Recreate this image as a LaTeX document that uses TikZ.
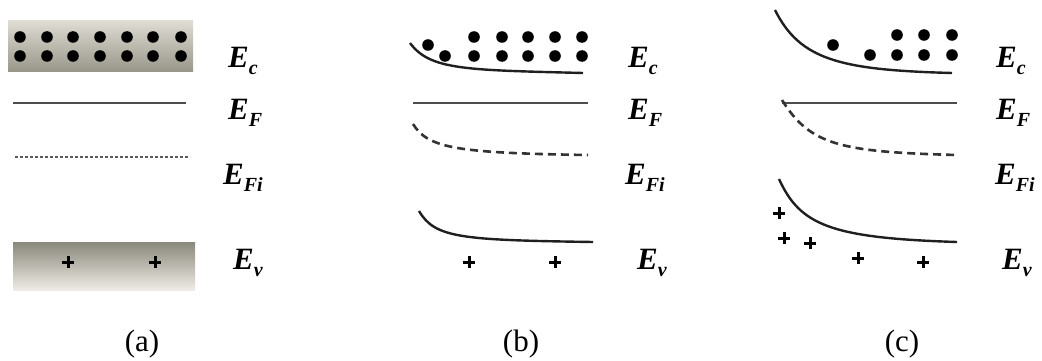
\documentclass[tikz,border=0pt]{standalone}
\usepackage{fontspec}
\setmainfont{Liberation Serif}
\newcommand\elab[1]{\bfseries\itshape E\raisebox{-7pt}{\fontsize{20}{20}\selectfont #1}}
\definecolor{cbtop}{RGB}{222,220,211}
\definecolor{cbbot}{RGB}{152,149,137}
\definecolor{vbtop}{RGB}{138,135,123}
\definecolor{vbbot}{RGB}{238,236,229}
\tikzset{
  lbl/.style={anchor=base west, inner sep=0pt, font=\fontsize{31}{31}\selectfont},
  captxt/.style={anchor=base, inner sep=0pt, font=\fontsize{31}{31}\selectfont},
  band/.style={line width=2.4pt, black!88},
  fermi/.style={line width=2.6pt, black!70},
  dashcurve/.style={line width=2.6pt, black!80, dash pattern=on 8pt off 5pt},
  elec/.style={fill=black},
  hole/.style={line width=3pt, black}
}
\newcommand\plus[2]{\draw[hole] (#1-6,#2) -- (#1+6,#2) (#1,#2-6) -- (#1,#2+6);}
\begin{document}
\begin{tikzpicture}[x=1pt,y=-1pt]
\useasboundingbox (0,0) rectangle (1042,361);
% ---- panel (a)
\shade[top color=cbtop, bottom color=cbbot] (8,21) rectangle (193,72);
\foreach \x in {20,47,73,100,127,153,181}{
  \fill[elec] (\x,37) circle (5.8);
  \fill[elec] (\x,56) circle (5.8);
}
\draw[fermi] (13,103) -- (186,103);
\draw[black!65, line width=2pt, dash pattern=on 3pt off 2pt] (15,157) -- (190,157);
\shade[top color=vbtop, bottom color=vbbot] (13,242) rectangle (195,290);
\plus{68}{262}
\plus{155}{262}
\node[lbl] (ac) at (228,67) {\elab{c}};
\node[lbl] (aF) at (228,119) {\elab{F}};
\node[lbl] (aFi) at (223,184) {\elab{Fi}};
\node[lbl] (av) at (233,269) {\elab{v}};
\node[captxt] (ca) at (142,351) {(a)};
% ---- panel (b)
\draw[band] (410,43) .. controls (430,70) and (465,70) .. (583,73);
\fill[elec] (428,45) circle (5.8);
\fill[elec] (445,56) circle (5.8);
\foreach \x in {474,502,528,555,582}{
  \fill[elec] (\x,37) circle (5.8);
  \fill[elec] (\x,56) circle (5.8);
}
\draw[fermi] (413,103) -- (588,103);
\draw[dashcurve] (413,124) .. controls (428,148) and (455,153) .. (588,155);
\draw[band] (419,211) .. controls (435,238) and (460,240) .. (593,242);
\plus{469}{262}
\plus{555}{262}
\node[lbl] (bc) at (628,67) {\elab{c}};
\node[lbl] (bF) at (628,119) {\elab{F}};
\node[lbl] (bFi) at (625,184) {\elab{Fi}};
\node[lbl] (bv) at (637,269) {\elab{v}};
\node[captxt] (cb) at (521,351) {(b)};
% ---- panel (c)
\draw[band] (775,10) .. controls (800,60) and (840,70) .. (952,73);
\fill[elec] (833,45) circle (5.8);
\fill[elec] (870,55) circle (5.8);
\foreach \x in {897,924,952}{
  \fill[elec] (\x,35) circle (5.8);
  \fill[elec] (\x,55) circle (5.8);
}
\draw[fermi] (782,103) -- (957,103);
\draw[dashcurve] (782,100) .. controls (810,145) and (840,152) .. (957,155);
\draw[band] (779,179) .. controls (800,225) and (830,238) .. (957,242);
\plus{779}{213}
\plus{784}{238}
\plus{810}{243}
\plus{858}{258}
\plus{923}{262}
\node[lbl] (cc) at (996,67) {\elab{c}};
\node[lbl] (cF) at (996,119) {\elab{F}};
\node[lbl] (cFi) at (995,184) {\elab{Fi}};
\node[lbl] (cv) at (1002,269) {\elab{v}};
\node[captxt] (cc2) at (902,351) {(c)};
\end{tikzpicture}
\end{document}
